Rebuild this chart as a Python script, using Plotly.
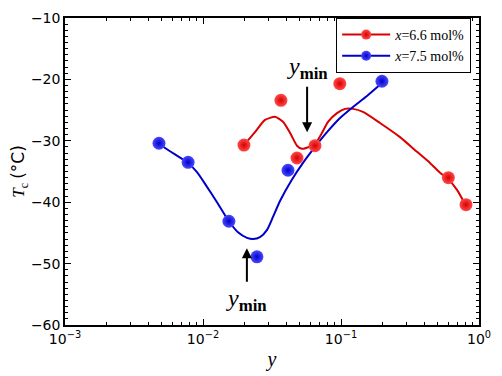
import math
import plotly.graph_objects as go

# measured points
red_x = [0.0198, 0.0367, 0.048, 0.0648, 0.098, 0.60, 0.805]
red_y = [-30.7, -23.4, -32.8, -30.8, -20.7, -36.0, -40.4]
blue_x = [0.0048, 0.0078, 0.0154, 0.0246, 0.0413, 0.198]
blue_y = [-30.4, -33.5, -43.1, -48.9, -34.8, -20.3]

# fitted curves
red_curve_x = [0.01982, 0.02381, 0.02813, 0.03324, 0.03800, 0.04271, 0.04799, 0.05218, 0.05863, 0.06481,
               0.07285, 0.08049, 0.09354, 0.1069, 0.1222, 0.1443, 0.1917, 0.2677, 0.3554,
               0.4415, 0.5218, 0.5963, 0.6928, 0.7918]
red_curve_y = [-30.7, -28.6, -26.6, -26.1, -26.9, -28.7, -30.8, -31.3, -31.0, -30.5,
               -28.7, -26.9, -25.5, -24.8, -24.8, -25.3, -27.1, -29.4, -31.8,
               -33.6, -35.2, -36.2, -38.0, -40.3]
blue_curve_x = [0.00472, 0.005767, 0.007659, 0.009048, 0.01069, 0.01263, 0.01518, 0.01793, 0.02084, 0.02304,
                0.02588, 0.02910, 0.03215, 0.03614, 0.04415, 0.05305, 0.06481, 0.07918, 0.09836, 0.1222,
                0.1543, 0.1982]
blue_curve_y = [-30.4, -31.7, -33.5, -35.1, -37.5, -40.0, -42.9, -44.9, -45.8, -46.0,
                -45.7, -44.5, -42.4, -39.8, -36.3, -33.6, -31.0, -28.6, -26.3, -24.5,
                -22.7, -20.6]

legend_names = ["<i>x</i>=6.6 mol%", "<i>x</i>=7.5 mol%"]
x_tickvals = [1e-3, 1e-2, 1e-1, 1]
x_ticktext = ["10<sup>−3</sup>", "10<sup>−2</sup>", "10<sup>−1</sup>", "10<sup>0</sup>"]
# y_min arrows: head x, head y, text offset (px)
ymin_x = [0.0568, 0.0208]
ymin_y = [-28.6, -47.5]
ymin_ay = [-64, 52]

RED, RED_L = "#d80000", "#ff4a4a"
BLUE, BLUE_L = "#0000c8", "#4a4aff"

fig = go.Figure()
for cx, cy, col in [(red_curve_x, red_curve_y, RED), (blue_curve_x, blue_curve_y, BLUE)]:
    fig.add_trace(go.Scatter(x=cx, y=cy, mode="lines", line=dict(color=col, width=2, shape="spline", smoothing=0.6),
                             showlegend=False, hoverinfo="skip"))
for px, py, col, light in [(red_x, red_y, RED, RED_L), (blue_x, blue_y, BLUE, BLUE_L)]:
    fig.add_trace(go.Scatter(x=px, y=py, mode="markers",
                             marker=dict(size=13, color=light, gradient=dict(type="radial", color=col),
                                         line=dict(width=0)),
                             showlegend=False))
for name, col, light in [(legend_names[0], RED, RED_L), (legend_names[1], BLUE, BLUE_L)]:
    fig.add_trace(go.Scatter(x=[None], y=[None], mode="lines+markers", name=name,
                             line=dict(color=col, width=2),
                             marker=dict(size=10, color=light, gradient=dict(type="radial", color=col))))

for hx, hy, ay in zip(ymin_x, ymin_y, ymin_ay):
    fig.add_annotation(x=math.log10(hx), y=hy, xref="x", yref="y",
                       text="<i>y</i><sub><b>min</b></sub>",
                       font=dict(family="Liberation Serif", size=24, color="black"),
                       showarrow=True, ax=0, ay=ay, arrowhead=2, arrowsize=1, arrowwidth=2,
                       arrowcolor="black", standoff=0, startstandoff=2)

minor_x = [m * 10 ** e for e in (-3, -2, -1) for m in range(2, 10)]

fig.update_xaxes(type="log", range=[-3, 0], tickvals=x_tickvals, ticktext=x_ticktext,
                 ticks="inside", ticklen=6, tickwidth=1, tickcolor="black",
                 minor=dict(tickvals=minor_x, ticks="inside", ticklen=3, tickcolor="black", showgrid=False),
                 showline=True, linecolor="black", linewidth=1.5, mirror="allticks", showgrid=False,
                 zeroline=False, automargin=False,
                 tickfont=dict(family="DejaVu Sans", size=14, color="black"),
                 title=dict(text="<i>y</i>", font=dict(family="Liberation Serif", size=20, color="black"), standoff=6))
fig.update_yaxes(range=[-60, -10], dtick=10, tick0=-60,
                 ticks="inside", ticklen=6, tickwidth=1, tickcolor="black",
                 minor=dict(dtick=1, ticks="inside", ticklen=3, tickcolor="black", showgrid=False),
                 showline=True, linecolor="black", linewidth=1.5, mirror="allticks", showgrid=False,
                 zeroline=False, tickformat="d", automargin=False,
                 tickfont=dict(family="DejaVu Sans", size=14, color="black"),
                 title=dict(text="<i>T</i><sub>c</sub> <span style='font-family:DejaVu Sans'>(°C)</span>",
                            font=dict(family="Liberation Serif", size=17, color="black"), standoff=10))

# the page body has an 8px margin, so the figure is drawn 8px smaller and offset
fig.update_layout(
    width=494, height=368,
    margin=dict(l=57, r=23, t=10, b=51, autoexpand=False),
    paper_bgcolor="white", plot_bgcolor="white",
    legend=dict(x=0.655, y=1, xanchor="left", yanchor="top", bgcolor="white",
                bordercolor="black", borderwidth=1,
                font=dict(family="Liberation Serif", size=14, color="black"),
                itemwidth=48, tracegroupgap=0),
    showlegend=True,
)

fig.write_html("out.html")
